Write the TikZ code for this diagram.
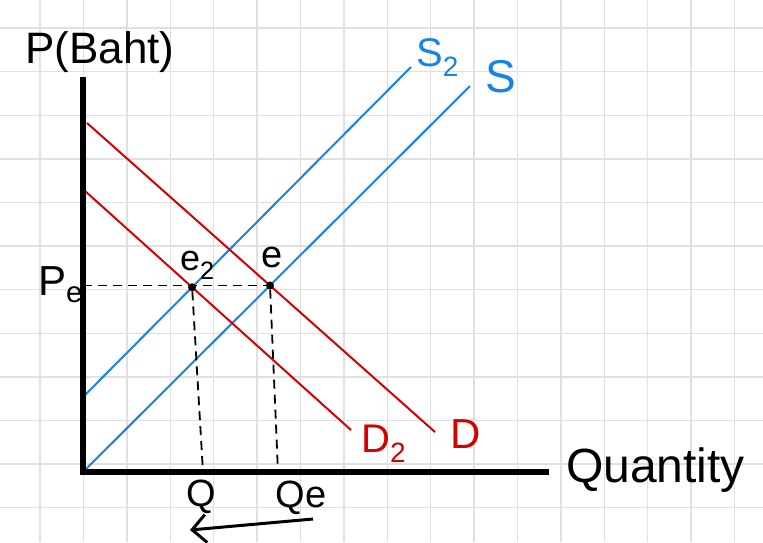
\documentclass[tikz,border=0pt]{standalone}
\usepackage{fontspec}
\setmainfont{Liberation Sans}
\usetikzlibrary{arrows.meta,positioning,intersections}
\definecolor{sblue}{RGB}{24,130,235}
\definecolor{dred}{RGB}{213,0,0}
\definecolor{gridgray}{RGB}{224,224,224}

\begin{document}
\begin{tikzpicture}[x=1pt, y=-1pt,
  txt/.style={inner sep=0pt, font=\fontsize{#1}{#1}\selectfont},
  axis/.style={line width=5.5pt},
  curve/.style={line width=2pt},
  guide/.style={line width=1.8pt, dash pattern=on 9pt off 6pt},
  dot/.style={circle, fill=black, inner sep=0pt, minimum size=8pt}]
  \useasboundingbox (0,0) rectangle (763,542);
  \clip (0,0) rectangle (763,542);
  \fill[white] (0,0) rectangle (763,542);
  \foreach \i in {0,...,16}
    \draw[gridgray, line width=1.4pt] (40+43.4*\i,0) -- ++(0,542);
  \foreach \j in {0,...,11}
    \draw[gridgray, line width=1.4pt] (0,28+43.6*\j) -- ++(763,0);

  \coordinate (O) at (83,472);
  \coordinate (ytop) at (83,77);
  \coordinate (xend) at (549,472);
  \coordinate (s1) at (470,86);
  \coordinate (s2a) at (83,397);
  \coordinate (s2b) at (411,67);
  \coordinate (d1a) at (87,123);
  \coordinate (d1b) at (435,432);
  \coordinate (d2a) at (85,191);
  \coordinate (d2b) at (351,430);
  \coordinate (q) at (203,472);
  \coordinate (qe) at (278,472);
  \coordinate (ar1) at (313,519);
  \coordinate (ar2) at (190,530);

  \draw[sblue, curve, name path=S] (O) -- (s1);
  \draw[sblue, curve, name path=S2] (s2a) -- (s2b);
  \draw[dred, curve, name path=D] (d1a) -- (d1b);
  \draw[dred, curve, name path=D2] (d2a) -- (d2b);
  \path[name intersections={of=S and D, by=e}];
  \path[name intersections={of=S2 and D2, by=e2}];

  \node[dot] (dotE) at (e) {};
  \node[dot] (dotE2) at (e2) {};
  \coordinate (pe) at (O |- e);
  \draw[guide] (pe) -- (dotE);
  \draw[guide] (dotE2) -- (q);
  \draw[guide] (dotE) -- (qe);
  \draw[axis] (ytop) -- (O) -- (xend);

  \node[txt=44, anchor=base] (pl) at (100,63) {P(Baht)};
  \node[txt=40, sblue, anchor=base west] (sl2) at (416,66) {S\textsubscript{2}};
  \node[txt=46, sblue, anchor=base] (sl) at (501,92) {S};
  \node[txt=40, dred, anchor=base west] (dl2) at (361,452) {D\textsubscript{2}};
  \node[txt=42, dred, anchor=base] (dl) at (466,448) {D};
  \node[txt=36, anchor=base west] (el2) at (180,270) {e\textsubscript{2}};
  \node[txt=38, anchor=base] (el) at (272,267) {e};
  \node[txt=42, anchor=base west] (pel) at (38,295) {P\textsubscript{e}};
  \node[txt=38, anchor=base] (ql) at (201,506) {Q};
  \node[txt=38, anchor=base] (qel) at (301,507) {Qe};
  \node[txt=48, anchor=base west] (xl) at (566,482) {Quantity};
  \draw[line width=3pt, -{Straight Barb[length=14pt,width=28pt]}] (ar1) -- (ar2);
\end{tikzpicture}
\end{document}
